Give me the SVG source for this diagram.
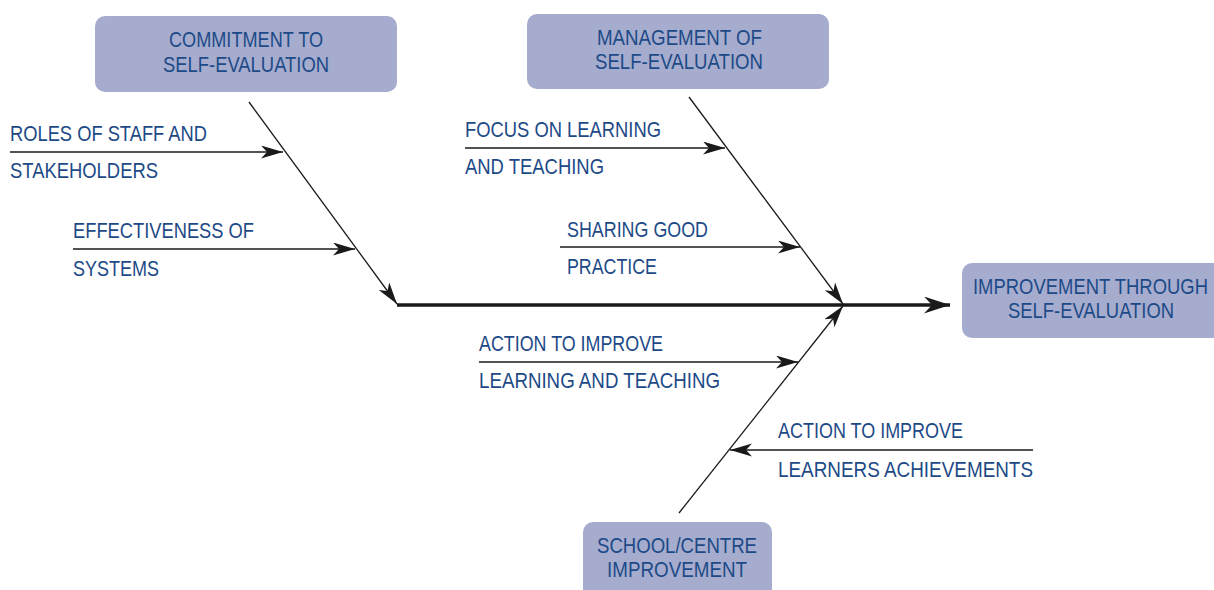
<svg xmlns="http://www.w3.org/2000/svg" width="1214" height="590" viewBox="0 0 1214 590">
<defs>
<style>
.box{fill:#a5acce}
.t{font-family:"Liberation Sans",Arial,sans-serif;font-size:22px;fill:#1d4a87}
.ln{stroke:#1a1a1a;stroke-width:1.3;fill:none}
.sp{stroke:#1a1a1a;stroke-width:3.5;fill:none}
</style>
<marker id="ah" markerUnits="userSpaceOnUse" markerWidth="24" markerHeight="14" refX="22" refY="6.5" orient="auto">
<path d="M0,0 L22,6.5 L0,13 L6,6.5 Z" fill="#1a1a1a"/>
</marker>
<marker id="ahb" markerUnits="userSpaceOnUse" markerWidth="30" markerHeight="18" refX="26" refY="8.5" orient="auto">
<path d="M0,0 L26,8.5 L0,17 L8,8.5 Z" fill="#1a1a1a"/>
</marker>
</defs>
<rect width="1214" height="590" fill="#ffffff"/>
<g id="connectors">
<line class="sp" x1="397" y1="305" x2="950" y2="305" marker-end="url(#ahb)"/>
<line class="ln" x1="249" y1="102" x2="397" y2="304" marker-end="url(#ah)"/>
<line class="ln" x1="689" y1="97" x2="843" y2="304" marker-end="url(#ah)"/>
<line class="ln" x1="679" y1="513" x2="843" y2="306" marker-end="url(#ah)"/>
<line class="ln" x1="10" y1="152" x2="283" y2="152" marker-end="url(#ah)"/>
<line class="ln" x1="73" y1="249" x2="355" y2="249" marker-end="url(#ah)"/>
<line class="ln" x1="465" y1="148" x2="725" y2="148" marker-end="url(#ah)"/>
<line class="ln" x1="560" y1="247" x2="800" y2="247" marker-end="url(#ah)"/>
<line class="ln" x1="479" y1="362" x2="798" y2="362" marker-end="url(#ah)"/>
<line class="ln" x1="1033" y1="450" x2="730" y2="450" marker-end="url(#ah)"/>
</g>
<g id="commitment">
<rect class="box" x="95" y="16" width="302" height="76" rx="10"/>
<text class="t" x="169" y="47" textLength="154" lengthAdjust="spacingAndGlyphs">COMMITMENT TO</text>
<text class="t" x="163" y="72" textLength="166" lengthAdjust="spacingAndGlyphs">SELF-EVALUATION</text>
</g>
<g id="management">
<rect class="box" x="527" y="14" width="302" height="75" rx="10"/>
<text class="t" x="597" y="45" textLength="165" lengthAdjust="spacingAndGlyphs">MANAGEMENT OF</text>
<text class="t" x="595" y="69" textLength="168" lengthAdjust="spacingAndGlyphs">SELF-EVALUATION</text>
</g>
<g id="improvement">
<rect class="box" x="962" y="263" width="262" height="75" rx="10"/>
<text class="t" x="973" y="294" textLength="235" lengthAdjust="spacingAndGlyphs">IMPROVEMENT THROUGH</text>
<text class="t" x="1008" y="318" textLength="166" lengthAdjust="spacingAndGlyphs">SELF-EVALUATION</text>
</g>
<g id="school">
<rect class="box" x="583" y="522" width="189" height="80" rx="10"/>
<text class="t" x="597" y="553" textLength="160" lengthAdjust="spacingAndGlyphs">SCHOOL/CENTRE</text>
<text class="t" x="607" y="577" textLength="140" lengthAdjust="spacingAndGlyphs">IMPROVEMENT</text>
</g>
<g id="roles">
<text class="t" x="10" y="141" textLength="197" lengthAdjust="spacingAndGlyphs">ROLES OF STAFF AND</text>
<text class="t" x="10" y="178" textLength="148" lengthAdjust="spacingAndGlyphs">STAKEHOLDERS</text>
</g>
<g id="effectiveness">
<text class="t" x="73" y="238" textLength="181" lengthAdjust="spacingAndGlyphs">EFFECTIVENESS OF</text>
<text class="t" x="73" y="276" textLength="86" lengthAdjust="spacingAndGlyphs">SYSTEMS</text>
</g>
<g id="focus">
<text class="t" x="465" y="137" textLength="196" lengthAdjust="spacingAndGlyphs">FOCUS ON LEARNING</text>
<text class="t" x="465" y="174" textLength="139" lengthAdjust="spacingAndGlyphs">AND TEACHING</text>
</g>
<g id="sharing">
<text class="t" x="567" y="237" textLength="141" lengthAdjust="spacingAndGlyphs">SHARING GOOD</text>
<text class="t" x="567" y="274" textLength="90" lengthAdjust="spacingAndGlyphs">PRACTICE</text>
</g>
<g id="action-learning">
<text class="t" x="479" y="351" textLength="184" lengthAdjust="spacingAndGlyphs">ACTION TO IMPROVE</text>
<text class="t" x="479" y="388" textLength="241" lengthAdjust="spacingAndGlyphs">LEARNING AND TEACHING</text>
</g>
<g id="action-learners">
<text class="t" x="778" y="438" textLength="185" lengthAdjust="spacingAndGlyphs">ACTION TO IMPROVE</text>
<text class="t" x="778" y="477" textLength="255" lengthAdjust="spacingAndGlyphs">LEARNERS ACHIEVEMENTS</text>
</g>
</svg>
